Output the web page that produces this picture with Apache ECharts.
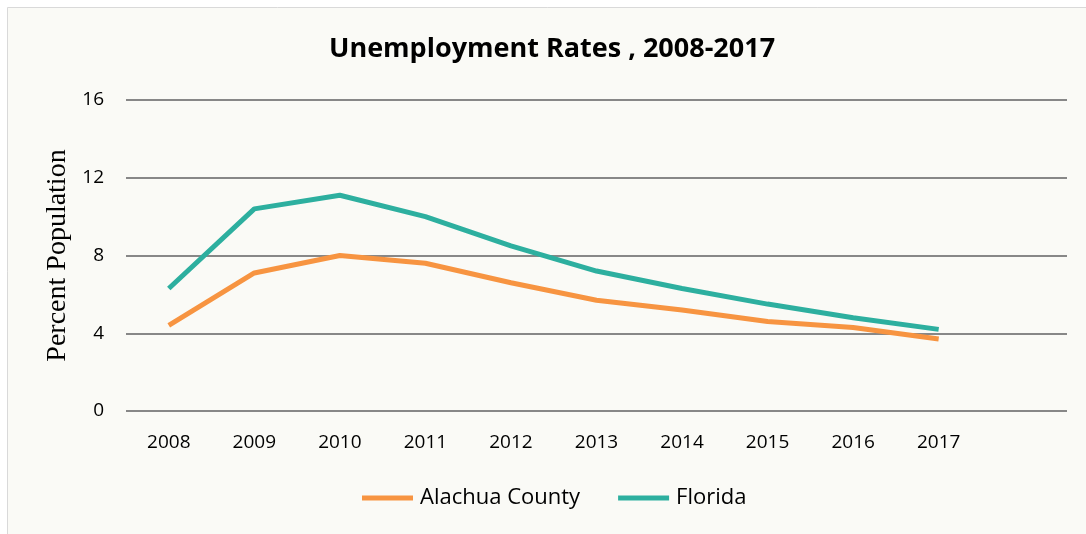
<!DOCTYPE html>
<html>
<head>
<meta charset="utf-8">
<title>Unemployment Rates</title>
<script src="https://cdn.jsdelivr.net/npm/echarts@6/dist/echarts.min.js"></script>
<style>
  html, body { margin: 0; padding: 0; background: #fff; }
  #chart { width: 1086px; height: 534px; }
</style>
</head>
<body>
<div id="chart"></div>
<script>
// 年份（最后留一个空类目，右侧留白）
var years = ['2008', '2009', '2010', '2011', '2012', '2013', '2014', '2015', '2016', '2017', ''];
// 失业率 %
var alachua = [4.4, 7.1, 8.0, 7.6, 6.6, 5.7, 5.2, 4.6, 4.3, 3.7];
var florida = [6.3, 10.4, 11.1, 10.0, 8.5, 7.2, 6.3, 5.5, 4.8, 4.2];
var yTicks = [0, 4, 8, 12, 16];

(function () {
  var myChart = echarts.init(document.getElementById('chart'));
  var sans = '"Open Sans", "Noto Sans", sans-serif';

  var option = {
    backgroundColor: '#fff',
    animation: false,
    graphic: [{
      type: 'rect',
      z: -10,
      shape: { x: 7.5, y: 7.5, width: 1090, height: 540 },
      style: { fill: '#fafaf6', stroke: '#d9d9d9', lineWidth: 1 }
    }],
    title: {
      text: 'Unemployment Rates , 2008-2017',
      left: 324,
      top: 31,
      textStyle: { fontFamily: sans, fontWeight: 'bold', fontSize: 27, color: '#000' }
    },
    legend: {
      left: 357,
      top: 482,
      icon: 'rect',
      itemWidth: 51,
      itemHeight: 5,
      itemGap: 38,
      textStyle: { fontFamily: sans, fontSize: 22, color: '#000', padding: [0, 0, 0, 2] },
      data: ['Alachua County', 'Florida']
    },
    grid: { left: 126, right: 19, top: 100, bottom: 123 },
    xAxis: {
      type: 'category',
      boundaryGap: true,
      data: years,
      axisTick: { show: false },
      axisLine: { show: false },
      axisLabel: { fontFamily: sans, fontSize: 19, color: '#000', margin: 22 }
    },
    yAxis: {
      type: 'value',
      min: yTicks[0],
      max: yTicks[yTicks.length - 1],
      interval: 4,
      name: 'Percent Population',
      nameLocation: 'middle',
      nameGap: 54,
      nameTextStyle: { fontFamily: '"Liberation Serif", serif', fontSize: 28, color: '#000' },
      axisLine: { show: false },
      axisTick: { show: false },
      axisLabel: { fontFamily: sans, fontSize: 19, color: '#000', margin: 22 },
      splitLine: { lineStyle: { color: '#878787', width: 2 } }
    },
    series: [{
      name: 'Alachua County',
      type: 'line',
      data: alachua,
      symbol: 'none',
      lineStyle: { width: 5, color: '#f79441', cap: 'butt' },
      itemStyle: { color: '#f79441' }
    }, {
      name: 'Florida',
      type: 'line',
      data: florida,
      symbol: 'none',
      lineStyle: { width: 5, color: '#2daf9f', cap: 'butt' },
      itemStyle: { color: '#2daf9f' }
    }]
  };

  myChart.setOption(option);
  window.addEventListener('resize', function () {
    myChart.resize();
  });
})();
</script>
</body>
</html>
